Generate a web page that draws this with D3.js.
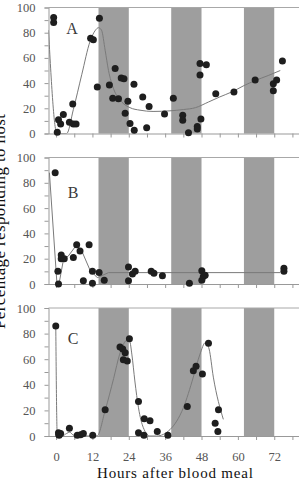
<!DOCTYPE html>
<html>
<head>
<meta charset="utf-8">
<script src="https://cdn.jsdelivr.net/npm/d3@7"></script>
<style>
  body { margin: 0; background: #fff; }
  svg { display: block; }
</style>
</head>
<body>
<svg id="chart" width="299" height="486"></svg>
<script>
// dark phases of the light cycle (hours after blood meal)
var darkPhases = [[14, 24], [38, 48], [62, 72]];
var xTickLabels = [0, 12, 24, 36, 48, 60, 72];
var yTickLabels = [0, 20, 40, 60, 80, 100];
var panelNames = ["A", "B", "C"];

// observed responses [hour, % responding]
var pointsA = [[-0.8, 92], [-0.8, 88], [0.8, 11], [0.4, 1], [1.5, 7.5], [2.4, 15], [4.4, 9], [5.5, 23.5],
  [5.7, 7.5], [6.6, 7.5], [11.4, 75.5], [12.3, 74.5], [14.3, 91.5], [13.6, 37], [17.6, 38.5], [18.7, 28],
  [19.5, 51.5], [20.6, 27.5], [21.5, 44], [22.4, 43.5], [23.7, 25.5], [22.8, 16], [24.4, 8], [25.8, 2.5],
  [25.7, 39], [28.6, 29], [30.7, 21.5], [29.9, 4.5], [35.8, 15.5], [38.7, 28], [41.8, 14.5], [41.8, 10.5],
  [43.7, 0.5], [46.6, 5.5], [46.6, 3.5], [47.8, 11.5], [47.5, 55.5], [49.6, 54.5], [47.5, 46.5], [52.7, 31.5],
  [58.7, 33], [65.7, 42.5], [71.7, 39.5], [72.8, 42.5], [71.7, 34], [74.7, 57.5]];
var pointsB = [[-0.3, 88], [0.6, 10], [0.8, 0], [1.7, 23], [1.7, 20], [2.7, 20], [5.7, 21], [6.8, 31],
  [7.9, 26], [9, 2.5], [10.9, 31], [12, 10], [12, 0.5], [14.2, 9], [15.9, 3], [23.9, 13.5], [23.9, 2.5],
  [25.2, 8], [26.1, 10], [31.4, 10], [32.3, 8.5], [35.1, 6.5], [44, 0.5], [48.1, 10.5], [48.6, 6],
  [48.1, 3], [49.2, 7], [75.2, 12.5], [75.2, 10]];
var pointsC = [[-0.1, 86], [0.8, 2.5], [1, 0.5], [1.5, 2], [0.9, 1.2], [4.4, 6], [7, 0.5], [8.1, 1],
  [9, 2], [12.1, 0.5], [16.2, 20.5], [21.1, 69.5], [22, 68], [22.8, 65], [22.2, 59.5], [23.5, 58.5],
  [24.2, 76], [27.2, 27], [27.2, 2.5], [29, 0.5], [29.1, 13.5], [31, 12], [33.4, 3.5], [36.9, 0.5],
  [43.3, 23], [45.3, 51], [46.2, 54.5], [48.3, 48.5], [50.3, 72.5], [53.6, 20.5], [52.5, 10], [53.4, 3.5]];

// fitted curves [hour, % responding]
var lineA = [[-2.5, 82], [0.3, 0], [3.5, 0], [5.7, 19], [8.5, 47], [11.2, 73], [13, 82], [14, 84],
  [15, 82], [16.2, 66], [17.3, 50], [18.9, 36], [21.7, 25], [24.4, 20.5], [27.7, 18.5], [32, 17.5],
  [37.6, 18], [42, 19], [46, 20.5], [50.3, 25], [54, 29], [58, 33], [62, 38], [65.7, 42], [70, 46], [74, 50]];
var lineB = [[-2.2, 88], [0.3, 0], [1, 0.5], [2.5, 20], [4, 22], [6.8, 31], [8.5, 26], [11.2, 11],
  [13.6, 5], [17.3, 9], [74, 9]];
var lineC = [[-0.1, 86], [0.4, 0], [2, 0], [3.5, 2], [4.5, 3], [5.5, 1], [7, 0], [13.5, 0], [16.2, 20],
  [19, 45], [21, 64], [23.5, 75], [24.3, 74], [25, 64], [26, 43], [27.2, 22], [28.8, 6.5], [31, 0],
  [33.2, 0], [37.6, 5], [42, 22], [45.3, 46], [47.5, 64], [49.3, 73], [50.5, 68], [51.9, 46], [55.2, 13]];

var panels = [
  {name: panelNames[0], points: pointsA, line: lineA, curve: d3.curveMonotoneX, top: 7.5, bottom: 133.5, lab: [5.3, 83.5]},
  {name: panelNames[1], points: pointsB, line: lineB, curve: d3.curveLinear, top: 157.5, bottom: 284, lab: [5.6, 72.5]},
  {name: panelNames[2], points: pointsC, line: lineC, curve: d3.curveMonotoneX, top: 308, bottom: 436, lab: [5.6, 76.5]}
];

var svg = d3.select("#chart");
var serif = "'Liberation Serif', 'Times New Roman', serif";
var left = 48.5;

var x = d3.scaleLinear()
  .domain([-2.5, 81])
  .range([left, left + 83.5 * 3.03]);

panels.forEach(function(p, i) {
  var y = d3.scaleLinear().domain([0, 100]).range([p.bottom, p.top]);
  var g = svg.append("g");

  g.append("clipPath").attr("id", "clip" + i)
    .append("rect")
      .attr("x", x(-2.5)).attr("y", p.top)
      .attr("width", x(81) - x(-2.5)).attr("height", p.bottom - p.top);

  // dark phase bands
  g.selectAll(".band").data(darkPhases).enter().append("rect")
    .attr("x", function(d) { return x(d[0]); })
    .attr("y", p.top)
    .attr("width", function(d) { return x(d[1]) - x(d[0]); })
    .attr("height", p.bottom - p.top)
    .attr("fill", "#9e9e9e");

  // frame: top border
  g.append("line")
    .attr("x1", x(-2.5)).attr("x2", 299)
    .attr("y1", p.top).attr("y2", p.top)
    .attr("stroke", "#a8a8a8").attr("stroke-width", 1);

  // y axis
  var yAxis = d3.axisLeft(y)
    .tickValues(d3.range(0, 101, 10))
    .tickSize(4)
    .tickPadding(9)
    .tickFormat(function(d) { return yTickLabels.indexOf(d) >= 0 ? d : ""; });
  var ya = g.append("g")
    .attr("transform", "translate(" + x(-2.5) + ",0)")
    .call(yAxis);
  ya.select(".domain").attr("stroke", "#999");
  ya.selectAll(".tick line").attr("stroke", "#999");
  ya.selectAll("text")
    .attr("font-family", serif).attr("font-size", "12.5px").attr("fill", "#555");

  // x axis
  var xAxis = d3.axisBottom(x)
    .tickValues(d3.range(0, 79, 6))
    .tickSize(4)
    .tickSizeOuter(0)
    .tickPadding(12)
    .tickFormat(function(d) { return (i === 2 && xTickLabels.indexOf(d) >= 0) ? d : ""; });
  var xa = g.append("g")
    .attr("transform", "translate(0," + p.bottom + ")")
    .call(xAxis);
  xa.select(".domain").attr("stroke", "#999");
  xa.selectAll(".tick line").attr("stroke", "#999");
  xa.selectAll("text")
    .attr("font-family", serif).attr("font-size", "12.5px").attr("fill", "#555");

  // fitted curve
  var line = d3.line()
    .x(function(d) { return x(d[0]); })
    .y(function(d) { return y(d[1]); })
    .curve(p.curve);
  g.append("path")
    .datum(p.line)
    .attr("clip-path", "url(#clip" + i + ")")
    .attr("fill", "none")
    .attr("stroke", "#7a7a7a")
    .attr("stroke-width", 1)
    .attr("d", line);

  // data points
  g.selectAll(".dot").data(p.points).enter().append("circle")
    .attr("cx", function(d) { return x(d[0]); })
    .attr("cy", function(d) { return y(d[1]); })
    .attr("r", 3.5)
    .attr("fill", "#1e1e1e");

  // panel letter
  g.append("text")
    .attr("x", x(p.lab[0]))
    .attr("y", y(p.lab[1]))
    .attr("text-anchor", "middle")
    .attr("dominant-baseline", "central")
    .attr("font-family", serif)
    .attr("font-size", "16px")
    .attr("fill", "#3a3a3a")
    .text(p.name);
});

// axis titles
svg.append("text")
  .attr("x", 175)
  .attr("y", 478)
  .attr("text-anchor", "middle")
  .attr("font-family", serif)
  .attr("font-size", "15px")
  .attr("textLength", 156)
  .attr("fill", "#111")
  .text("Hours after blood meal");

// the reference crops this title at the left edge of the picture
svg.append("text")
  .attr("transform", "translate(4.5,221.5) rotate(-90)")
  .attr("text-anchor", "middle")
  .attr("font-family", serif)
  .attr("font-size", "17px")
  .attr("textLength", 215)
  .attr("fill", "#111")
  .text("Percentage responding to host");
</script>
</body>
</html>
